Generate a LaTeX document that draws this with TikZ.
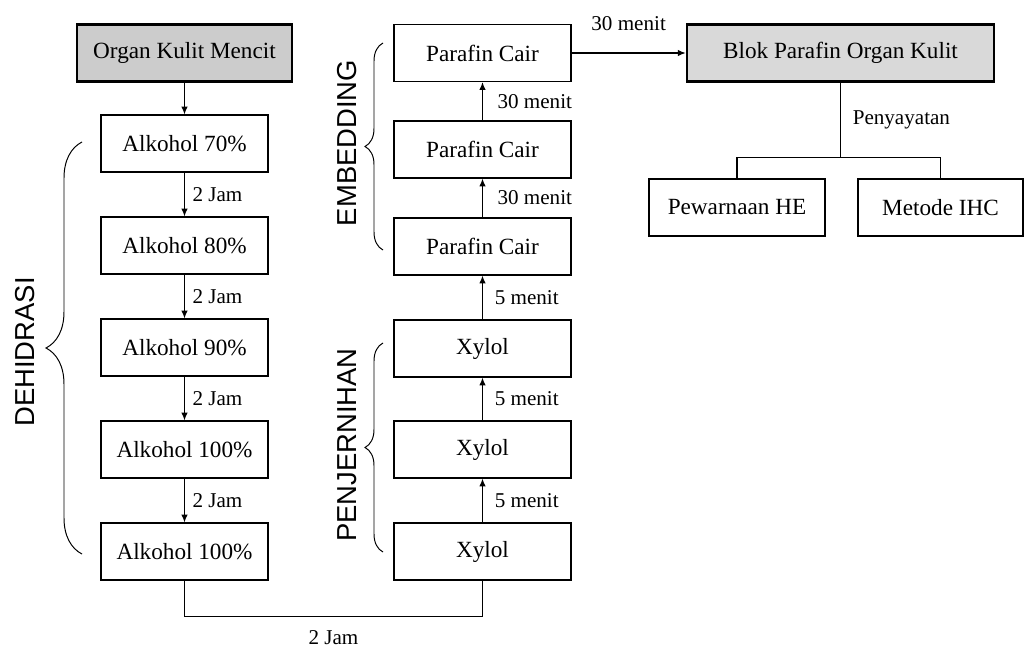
\documentclass[tikz,border=0pt]{standalone}
\usepackage{fontspec}
\setmainfont{Liberation Serif}
\newfontfamily\sidesans{Liberation Sans}
\usepackage{tikz}
\usetikzlibrary{arrows.meta}
\usetikzlibrary{decorations.pathreplacing}

\definecolor{organgray}{HTML}{CCCCCC}
\definecolor{blokgray}{HTML}{D9D9D9}

\begin{document}
\begin{tikzpicture}[x=0.025cm, y=-0.025cm,
    every node/.style={font=\fontsize{16.5}{19}\selectfont},
    stepbox/.style={draw, line width=0.8pt, minimum height=1.425cm, inner sep=2pt},
    graybox/.style={stepbox, line width=1.8pt},
    timelbl/.style={font=\fontsize{15}{18}\selectfont},
    sidelbl/.style={rotate=90, font=\sidesans\fontsize{19.5}{22}\selectfont},
    flow/.style={line width=0.8pt, -{Latex[length=5.5pt, width=4.5pt]}},
    link/.style={line width=0.8pt},
    bracket/.style={line width=0.7pt, decorate, decoration={brace, amplitude=#1}}]

\useasboundingbox (0,0) rectangle (1024,650);

% --- LEFT COLUMN: DEHIDRASI ---
\node[graybox, fill=organgray, minimum width=5.375cm] (organ) at (184.5, 53) {Organ Kulit Mencit};
\node[stepbox, minimum width=4.175cm] (alk1) at (184.5, 143.5) {Alkohol 70\%};
\node[stepbox, minimum width=4.175cm] (alk2) at (184.5, 245.5) {Alkohol 80\%};
\node[stepbox, minimum width=4.175cm] (alk3) at (184.5, 347.5) {Alkohol 90\%};
\node[stepbox, minimum width=4.175cm] (alk4) at (184.5, 449.5) {Alkohol 100\%};
\node[stepbox, minimum width=4.175cm] (alk5) at (184.5, 551.5) {Alkohol 100\%};

\draw[flow] (organ) -- (alk1);
\draw[flow] (alk1) -- node[timelbl, right=2pt] {2 Jam} (alk2);
\draw[flow] (alk2) -- node[timelbl, right=2pt] {2 Jam} (alk3);
\draw[flow] (alk3) -- node[timelbl, right=2pt] {2 Jam} (alk4);
\draw[flow] (alk4) -- node[timelbl, right=2pt] {2 Jam} (alk5);

\draw[bracket=0.9cm] (82, 554) -- (82, 142);
\node[sidelbl] (dehid) at (25, 352) {DEHIDRASI};

% --- MIDDLE COLUMN: PENJERNIHAN AND EMBEDDING ---
\node[stepbox, minimum width=4.425cm] (xyl3) at (482.5, 551.5) {Xylol};
\node[stepbox, minimum width=4.425cm] (xyl2) at (482.5, 449.5) {Xylol};
\node[stepbox, minimum width=4.425cm] (xyl1) at (482.5, 348.5) {Xylol};
\node[stepbox, minimum width=4.425cm] (par3) at (482.5, 246.5) {Parafin Cair};
\node[stepbox, minimum width=4.425cm] (par2) at (482.5, 149.5) {Parafin Cair};
\node[stepbox, minimum width=4.425cm] (par1) at (482.5, 53) {Parafin Cair};

\draw[link] (alk5.south) -- ++(0, 36) -| node[timelbl, pos=0.25, below=6pt] {2 Jam} (xyl3.south);
\draw[flow] (xyl3) -- node[timelbl, right=5pt] {5 menit} (xyl2);
\draw[flow] (xyl2) -- node[timelbl, right=5pt] {5 menit} (xyl1);
\draw[flow] (xyl1) -- node[timelbl, right=5pt] {5 menit} (par3);
\draw[flow] (par3) -- node[timelbl, right=7pt] {30 menit} (par2);
\draw[flow] (par2) -- node[timelbl, right=7pt] {30 menit} (par1);

\draw[bracket=0.45cm] (383, 552) -- (383, 343);
\node[sidelbl] (jernih) at (347, 445) {PENJERNIHAN};
\draw[bracket=0.45cm] (383, 250) -- (383, 43);
\node[sidelbl] (embed) at (347, 143) {EMBEDDING};

% --- RIGHT SECTION: BLOK PARAFIN ---
\node[graybox, fill=blokgray, minimum width=7.675cm] (blok) at (840.5, 53) {Blok Parafin Organ Kulit};
\node[stepbox, minimum width=4.4cm] (he) at (737, 207.5) {Pewarnaan HE};
\node[stepbox, minimum width=4.125cm] (ihc) at (940.5, 207.5) {Metode IHC};

\draw[flow] (par1) -- node[timelbl, above=12pt] {30 menit} (blok);
\draw[link] (blok.south) -- node[timelbl, right=5pt] {Penyayatan} ++(0, 75) coordinate (split);
\draw[link] (split) -| (he.north);
\draw[link] (split) -| (ihc.north);

\end{tikzpicture}
\end{document}
